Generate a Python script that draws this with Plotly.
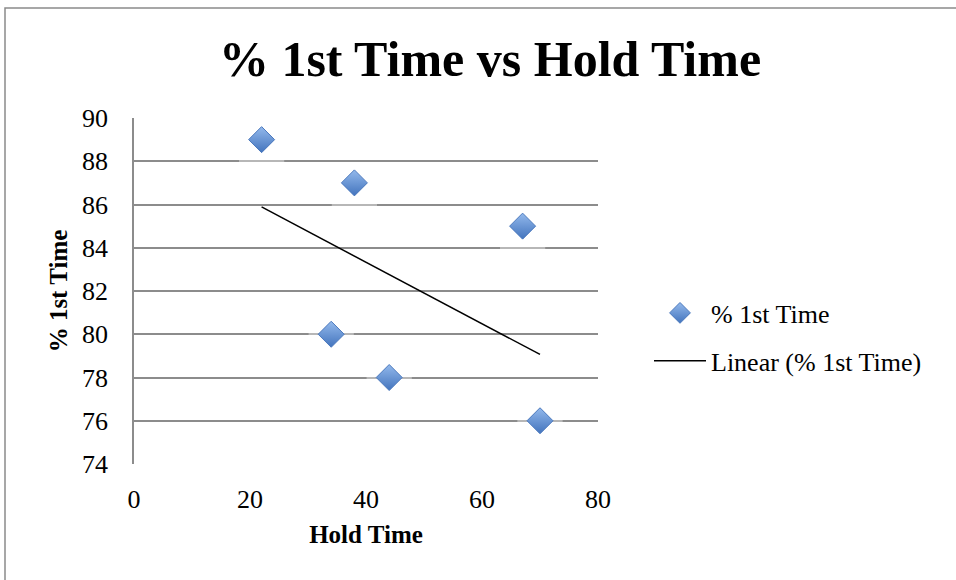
import numpy as np
import plotly.graph_objects as go

# Data: hold time vs percentage resolved first time
hold_time = [22, 38, 67, 34, 44, 70]
pct_first_time = [89, 87, 85, 80, 78, 76]

series_name = "% 1st Time"
trend_name = "Linear (% 1st Time)"
x_ticks = [0, 20, 40, 60, 80]
y_ticks = [74, 76, 78, 80, 82, 84, 86, 88, 90]

# Least-squares linear trend over the data range
slope, intercept = np.polyfit(hold_time, pct_first_time, 1)
trend_x = [min(hold_time), max(hold_time)]
trend_y = [slope * v + intercept for v in trend_x]

W, H = 956, 580
L, R, T, B = 134, 358, 118, 116
pw, ph = W - L - R, H - T - B


def px_x(p):
    return (p - L) / pw


def px_y(p):
    return (H - B - p) / ph


serif = "Liberation Serif, Times New Roman, serif"

fig = go.Figure()

fig.add_trace(go.Scatter(
    x=hold_time, y=pct_first_time, mode="markers", name=series_name,
    legendgroup="pts",
    marker=dict(symbol="diamond", size=20, color="#93b9ec",
                gradient=dict(type="vertical", color="#4374bd"),
                line=dict(color="#4a78bd", width=1)),
))

fig.add_trace(go.Scatter(
    x=trend_x, y=trend_y, mode="lines", name=trend_name,
    legendgroup="trend",
    line=dict(color="black", width=1.5),
))

# soft glow beneath each marker that lightens the gridlines it crosses
glow = [
    dict(type="rect", xref="x", yref="y", layer="between",
         x0=xv - 3.9, x1=xv + 3.9, y0=yv - 1.15, y1=yv + 0.1,
         fillcolor="rgba(255,255,255,0.38)", line=dict(width=0))
    for xv, yv in zip(hold_time, pct_first_time)
]

frame = dict(type="rect", xref="paper", yref="paper",
             x0=px_x(5), x1=px_x(1000), y0=px_y(640), y1=px_y(8),
             line=dict(color="#8a8a8a", width=1.5), fillcolor="rgba(0,0,0,0)", layer="below")

fig.update_layout(
    width=W, height=H,
    margin=dict(l=L, r=R, t=T, b=B),
    paper_bgcolor="white", plot_bgcolor="white",
    font=dict(family=serif, color="black", size=26),
    title=dict(text="<b>% 1st Time vs Hold Time</b>", x=px_x(490), xref="paper", xanchor="center",
               y=(H - 58) / H, yanchor="middle", font=dict(size=50, family=serif)),
    showlegend=True,
    legend=dict(x=px_x(649), y=px_y(337), xanchor="left", yanchor="middle",
                font=dict(size=26, family=serif), bgcolor="rgba(0,0,0,0)",
                tracegroupgap=11, itemwidth=52),
    shapes=[frame] + glow,
)

fig.update_xaxes(
    range=[0, 80], tickvals=x_ticks, showgrid=False, zeroline=False,
    showline=False, ticks="", ticklabelstandoff=17,
    tickfont=dict(size=26, family=serif),
    title=dict(text="<b>Hold Time</b>", font=dict(size=25, family=serif), standoff=12),
)
fig.update_yaxes(
    range=[74, 90], tickvals=y_ticks, showgrid=True, gridcolor="#8c8c8c", gridwidth=1.6,
    zeroline=False, showline=True, linecolor="#8c8c8c", linewidth=1.6, ticks="",
    ticklabelstandoff=19, tickfont=dict(size=26, family=serif),
    title=dict(text="<b>% 1st Time</b>", font=dict(size=25, family=serif), standoff=7),
)

fig.write_html("out.html")
